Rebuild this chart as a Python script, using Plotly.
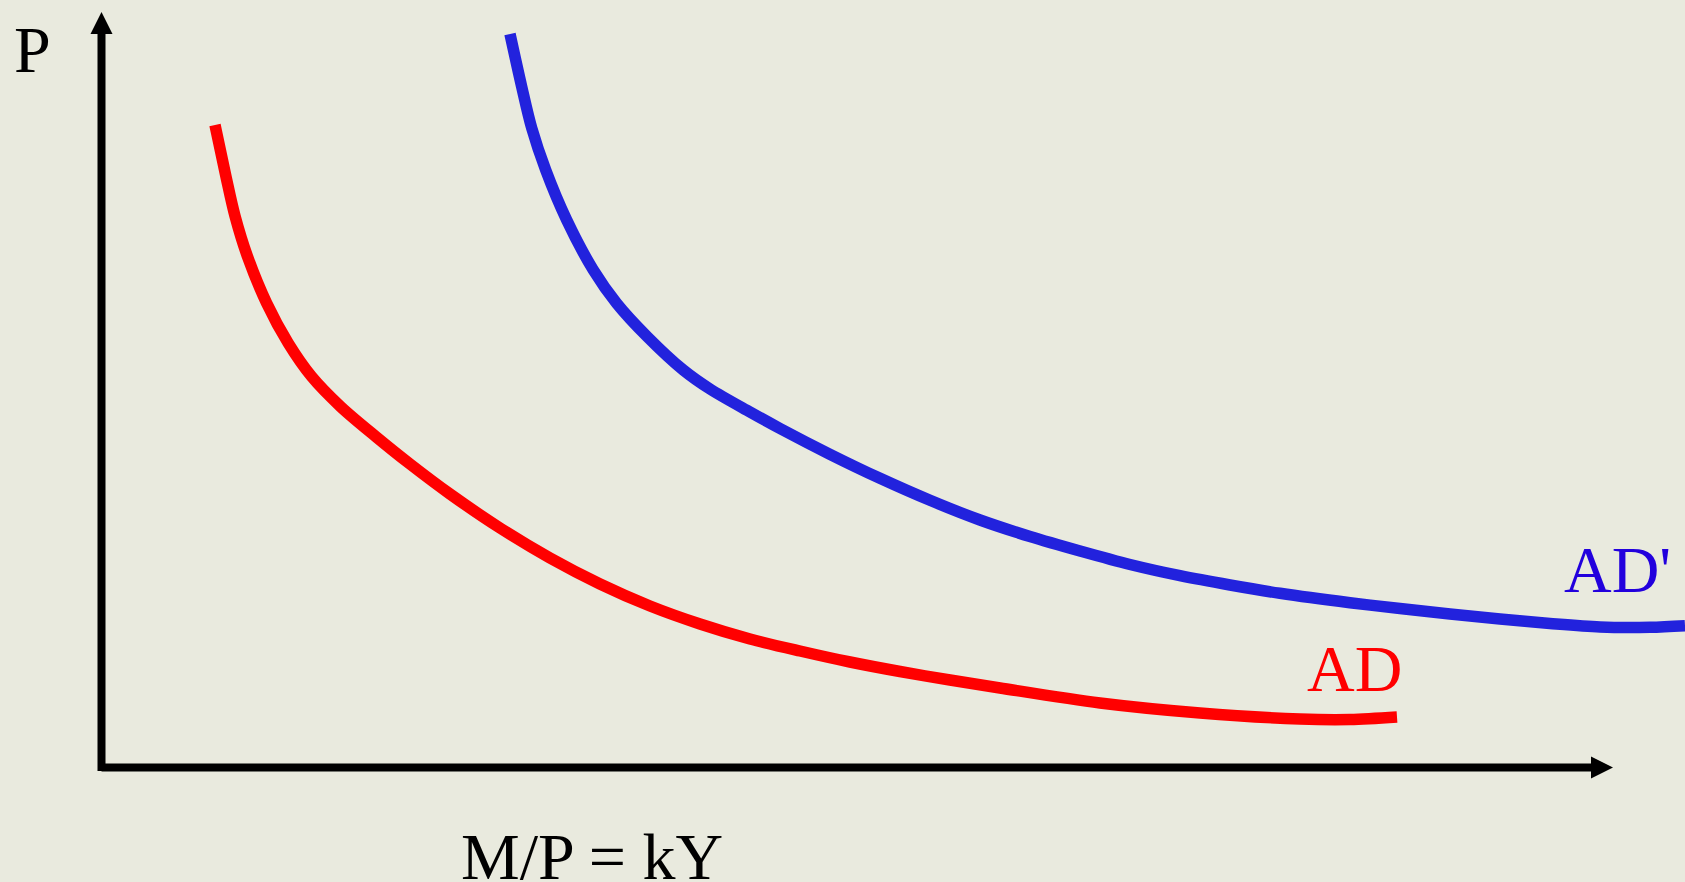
import plotly.graph_objects as go

# Curve values (quantity on x, price on y), origin at the axes corner
ad_x = [113.5, 124.5, 133.5, 145.8, 165.2, 186.8, 210.2, 239.2, 274.5, 308.5, 348.5,
        398.5, 448.5, 498.5, 548.5, 598.5, 648.5, 698.5, 748.5, 798.5, 848.5, 898.5,
        998.5, 1098.5, 1198.5, 1248.5, 1295.5]
ad_y = [642.5, 590.8, 551.5, 511.5, 464.2, 424.2, 390.8, 360.8, 330.8, 303.5, 273.5,
        239.5, 209.5, 183.5, 161.5, 143.5, 128.5, 116.5, 105.5, 96.0, 87.5, 79.5,
        64.5, 54.5, 48.5, 48.0, 50.5]

ad2_x = [408.5, 420.2, 430.2, 444.2, 465.2, 491.8, 515.2, 545.8, 581.8, 608.5, 648.5,
         678.5, 728.5, 778.5, 828.5, 878.5, 928.5, 978.5, 1028.5, 1078.5, 1128.5,
         1178.5, 1248.5, 1298.5, 1348.5, 1398.5, 1448.5, 1498.5, 1548.5, 1583.5]
ad2_y = [733.5, 680.8, 639.5, 597.5, 547.5, 497.5, 464.2, 430.8, 397.5, 378.5, 355.5,
         339.0, 313.2, 289.2, 267.2, 247.5, 231.0, 216.5, 203.0, 191.8, 182.5,
         174.2, 164.8, 159.0, 153.5, 148.5, 144.0, 140.5, 140.2, 141.8]

labels = ["AD", "AD'"]
x_axis_label = "M/P = kY"
y_axis_label = "P"

# Axis extents (tip of the arrows)
X_TIP = 1511.5
Y_TIP = 755.5

BG = "#E9EADE"
RED = "#FF0000"
BLUE = "#2222DD"
FONT = "Liberation Serif, Times New Roman, serif"

fig = go.Figure()

# axes
fig.add_trace(go.Scatter(x=[0, 0], y=[-3.5, Y_TIP - 12], mode="lines",
                         line=dict(color="black", width=8), hoverinfo="skip"))
fig.add_trace(go.Scatter(x=[0, X_TIP - 12], y=[0, 0], mode="lines",
                         line=dict(color="black", width=8), hoverinfo="skip"))
fig.add_trace(go.Scatter(x=[0], y=[Y_TIP], mode="markers",
                         marker=dict(symbol="arrow-up", size=22, color="black"),
                         cliponaxis=False, hoverinfo="skip"))
fig.add_trace(go.Scatter(x=[X_TIP], y=[0], mode="markers",
                         marker=dict(symbol="arrow-right", size=22, color="black"),
                         cliponaxis=False, hoverinfo="skip"))

# curves
fig.add_trace(go.Scatter(x=ad_x, y=ad_y, mode="lines",
                         line=dict(color=RED, width=11.5, shape="spline", smoothing=0.9),
                         hoverinfo="skip"))
fig.add_trace(go.Scatter(x=ad2_x, y=ad2_y, mode="lines",
                         line=dict(color=BLUE, width=11.5, shape="spline", smoothing=0.9),
                         hoverinfo="skip"))

ann = dict(showarrow=False, xref="x", yref="y", xanchor="center", yanchor="middle")
fig.add_annotation(text=y_axis_label, x=-69, y=718.5,
                   font=dict(family=FONT, size=66, color="black"), **ann)
fig.add_annotation(text=x_axis_label, x=490.2, y=-88.5,
                   font=dict(family=FONT, size=66, color="black"), **ann)
fig.add_annotation(text=labels[0], x=1253.4, y=99,
                   font=dict(family=FONT, size=66, color=RED), **ann)
fig.add_annotation(text=labels[1], x=1516, y=198.3,
                   font=dict(family=FONT, size=66, color="#2200DD"), **ann)

fig.update_layout(
    width=1685, height=882,
    margin=dict(l=0, r=0, t=0, b=0),
    paper_bgcolor=BG, plot_bgcolor=BG,
    showlegend=False,
    xaxis=dict(range=[-101.5, 1583.5], visible=False, fixedrange=True),
    yaxis=dict(range=[-114.5, 767.5], visible=False, fixedrange=True),
)

fig.write_html("out.html", config={"displayModeBar": False},
               post_script="document.body.style.margin='0';")
